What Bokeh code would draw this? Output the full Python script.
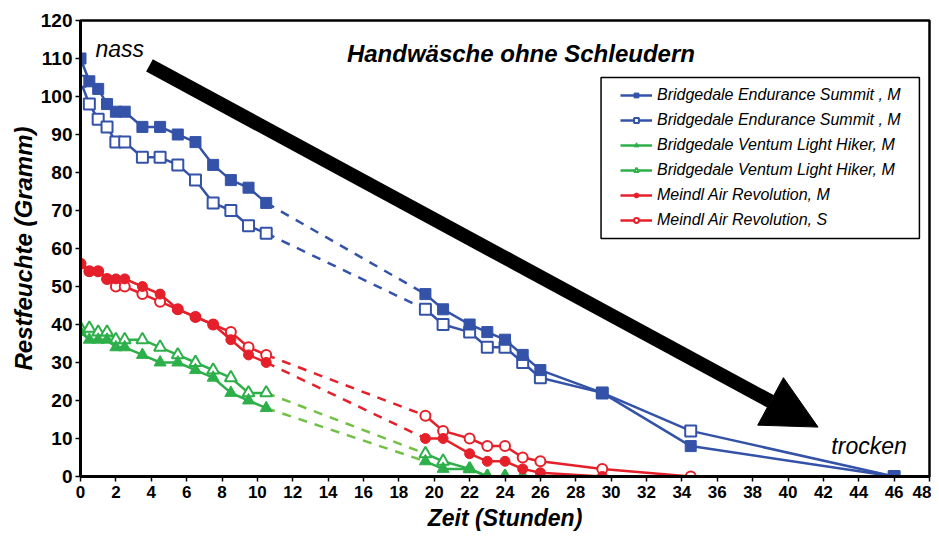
from bokeh.plotting import figure
from bokeh.models import (Range1d, SingleIntervalTicker, Legend, LegendItem,
                          Arrow, NormalHead, Label, BoxAnnotation)
from bokeh.embed import file_html
from bokeh.resources import INLINE

# ---------------- data ----------------
t_early = [0, 0.5, 1, 1.5, 2, 2.5, 3.5, 4.5, 5.5, 6.5, 7.5, 8.5, 9.5, 10.5]

es1_early = [110, 104, 102, 98, 96, 96, 92, 92, 90, 88, 82, 78, 76, 72]
es1_t_late = [19.5, 20.5, 22, 23, 24, 25, 26, 29.5, 34.5, 46]
es1_late = [48, 44, 40, 38, 36, 32, 28, 22, 8, 0]

es2_early = [104, 98, 94, 92, 88, 88, 84, 84, 82, 78, 72, 70, 66, 64]
es2_t_late = [19.5, 20.5, 22, 23, 24, 25, 26, 29.5, 34.5, 46]
es2_late = [44, 40, 38, 34, 34, 30, 26, 22, 12, 0]

vl1_early = [38, 36, 36, 36, 34, 34, 32, 30, 30, 28, 26, 22, 20, 18]
vl1_t_late = [19.5, 20.5, 22, 23, 24, 25]
vl1_late = [4, 2, 2, 0, 0, 0]

vl2_early = [39, 39, 38, 38, 36, 36, 36, 34, 32, 30, 28, 26, 22, 22]
vl2_t_late = [19.5, 20.5, 22, 23, 24, 25]
vl2_late = [6, 4, 2, 0, 0, 0]

arm_early = [56, 54, 54, 52, 52, 52, 50, 48, 44, 42, 40, 36, 32, 30]
arm_t_late = [19.5, 20.5, 22, 23, 24, 25, 26, 29.5]
arm_late = [10, 10, 6, 4, 4, 2, 1, 0]

ars_early = [56, 54, 54, 52, 50, 50, 48, 46, 44, 42, 40, 38, 34, 32]
ars_t_late = [19.5, 20.5, 22, 23, 24, 25, 26, 29.5, 34.5]
ars_late = [16, 12, 10, 8, 8, 5, 4, 2, 0]

labels = ["Bridgedale Endurance Summit , M",
          "Bridgedale Endurance Summit , M",
          "Bridgedale Ventum Light Hiker, M",
          "Bridgedale Ventum Light Hiker, M",
          "Meindl Air Revolution, M",
          "Meindl Air Revolution, S"]

title_text = "Handwäsche ohne Schleudern"
wet_text = "nass"
dry_text = "trocken"
x_title = "Zeit (Stunden)"
y_title = "Restfeuchte (Gramm)"
arrow_start = (3.9, 108.2)
arrow_end = (41.7, 13.0)
legend_box = dict(left=29.43, right=47.43, top=105.0, bottom=62.6)

BLUE = "#3352A8"
GREEN = "#2DB04A"
GREEN_D = "#72C046"
RED = "#E5202A"
FONT = "Liberation Sans"

p = figure(width=931, height=538, x_range=Range1d(0, 48), y_range=Range1d(0, 120),
           output_backend="svg", toolbar_location=None,
           min_border_left=80, min_border_right=2, min_border_top=20,
           min_border_bottom=62)
p.grid.visible = False
p.outline_line_color = "black"
p.outline_line_width = 2.5
p.background_fill_color = "white"

p.xaxis.ticker = SingleIntervalTicker(interval=2, num_minor_ticks=0)
p.yaxis.ticker = SingleIntervalTicker(interval=10, num_minor_ticks=0)
for ax in (p.xaxis, p.yaxis):
    ax.axis_line_width = 3
    ax.axis_line_color = "black"
    ax.major_tick_in = 0
    ax.major_tick_out = 5
    ax.major_tick_line_width = 1.5
    ax.minor_tick_line_color = None
    ax.major_label_text_font = FONT
    ax.major_label_text_font_style = "bold"
    ax.major_label_text_color = "black"
    ax.axis_label_text_font = FONT
    ax.axis_label_text_font_style = "bold italic"
    ax.axis_label_text_color = "black"
p.xaxis.major_label_text_font_size = "17px"
p.yaxis.major_label_text_font_size = "19px"
p.xaxis.axis_label_text_font_size = "23px"
p.yaxis.axis_label_text_font_size = "24px"
p.xaxis.axis_label_standoff = 4
p.yaxis.axis_label_standoff = 1
p.xaxis.axis_label = x_title
p.yaxis.axis_label = y_title
p.xaxis.major_label_standoff = 4
p.yaxis.major_label_standoff = 3

# arrow
p.add_layout(Arrow(end=NormalHead(size=54, fill_color="black", line_color="black", line_width=1),
                   x_start=arrow_start[0], y_start=arrow_start[1],
                   x_end=arrow_end[0], y_end=arrow_end[1],
                   line_width=14, line_color="black"))

series = [
    (es1_early, es1_t_late, es1_late, BLUE, BLUE, "square", True),
    (es2_early, es2_t_late, es2_late, BLUE, BLUE, "square", False),
    (vl1_early, vl1_t_late, vl1_late, GREEN, GREEN_D, "triangle", True),
    (vl2_early, vl2_t_late, vl2_late, GREEN, GREEN_D, "triangle", False),
    (arm_early, arm_t_late, arm_late, RED, RED, "circle", True),
    (ars_early, ars_t_late, ars_late, RED, RED, "circle", False),
]
sizes = {"square": 11, "triangle": 12, "circle": 10}

for ye, tl, yl, col, dcol, mk, filled in series:
    p.line([t_early[-1], tl[0]], [ye[-1], yl[0]], line_color=dcol,
           line_width=2.5, line_dash="9 8")

# draw open-marker series first so the filled markers lie on top
draw_order = [1, 0, 3, 2, 5, 4]
legend_renderers = {}
for i in draw_order:
    ye, tl, yl, col, dcol, mk, filled = series[i]
    r1 = p.line(t_early, ye, line_color=col, line_width=2.5)
    p.line(tl, yl, line_color=col, line_width=2.5)
    fc = col if filled else "white"
    r2 = p.scatter(t_early, ye, marker=mk, size=sizes[mk], fill_color=fc,
                   line_color=col, line_width=2 if not filled else 1)
    p.scatter(tl, yl, marker=mk, size=sizes[mk], fill_color=fc,
              line_color=col, line_width=2 if not filled else 1)
    legend_renderers[i] = [r1, r2]

items = [LegendItem(label=labels[i], renderers=legend_renderers[i])
         for i in range(len(series))]

p.add_layout(BoxAnnotation(left=legend_box["left"], right=legend_box["right"],
                           top=legend_box["top"], bottom=legend_box["bottom"],
                           fill_color="white", fill_alpha=1,
                           line_color="black", line_alpha=1, line_width=1.5))

legend = Legend(items=items, location=(540, 247), padding=0, spacing=7,
                label_height=12, glyph_height=12, glyph_width=32,
                label_standoff=5,
                label_text_font=FONT, label_text_font_style="italic",
                label_text_font_size="16px", label_text_color="black",
                border_line_alpha=0, background_fill_alpha=0)
p.add_layout(legend, "center")

p.add_layout(Label(x=24.9, y=111.3, text=title_text, text_align="center",
                   text_baseline="alphabetic", text_font=FONT,
                   text_font_style="bold italic", text_font_size="24px",
                   text_color="black"))
p.add_layout(Label(x=0.85, y=112.6, text=wet_text, text_align="left",
                   text_baseline="alphabetic", text_font=FONT,
                   text_font_style="italic", text_font_size="23px",
                   text_color="black"))
p.add_layout(Label(x=42.45, y=7.9, text=dry_text, text_align="left",
                   text_baseline="alphabetic", text_font=FONT,
                   text_font_style="italic", text_font_size="23px",
                   text_color="black"))

open("out.html", "w").write(file_html(p, INLINE))
